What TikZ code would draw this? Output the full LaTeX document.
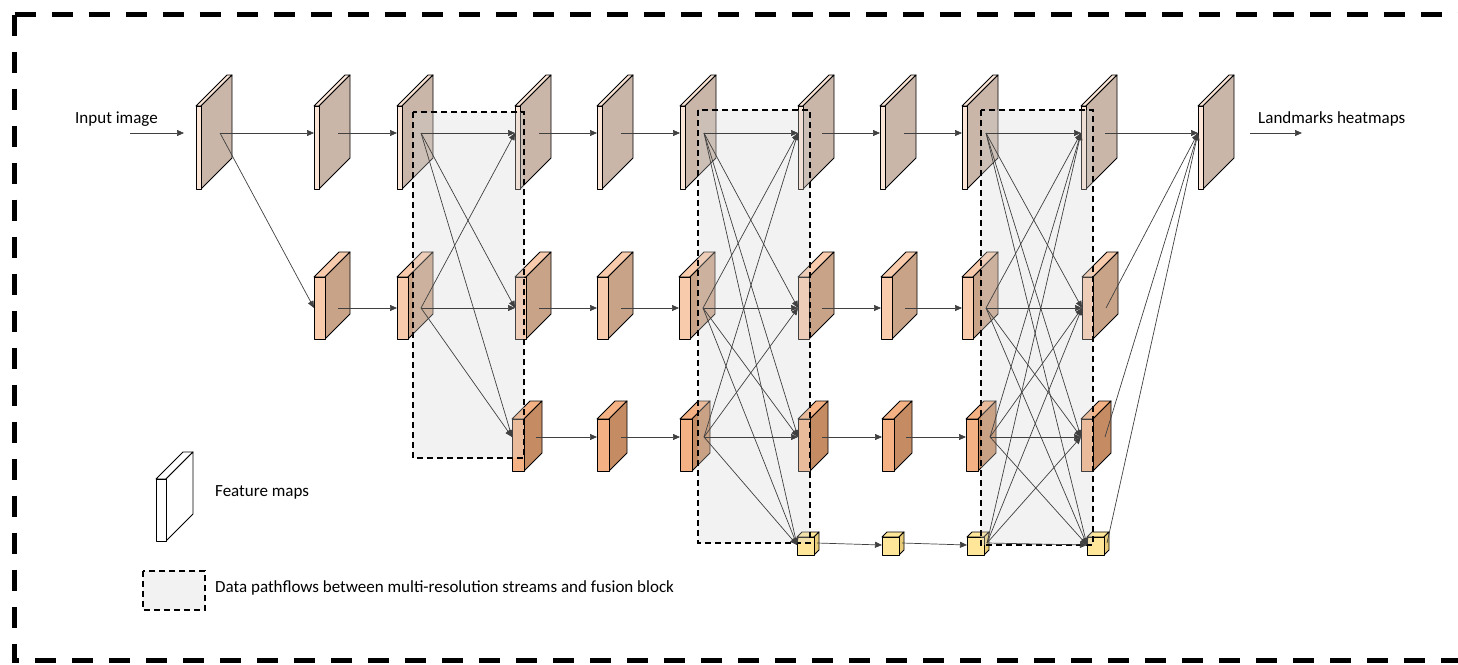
\documentclass[tikz,border=0pt]{standalone}
\usepackage{fontspec}
\setmainfont{Carlito}
\usetikzlibrary{arrows.meta}
\definecolor{cA}{HTML}{FBE5D6}\definecolor{sA}{HTML}{C9B6A9}
\definecolor{cB}{HTML}{F8CBAD}\definecolor{sB}{HTML}{C8A387}
\definecolor{cC}{HTML}{F4B183}\definecolor{sC}{HTML}{C58C64}
\definecolor{cD}{HTML}{FFE699}\definecolor{sD}{HTML}{E8CC7A}
\definecolor{fuse}{HTML}{D4D4D4}
\definecolor{legfill}{HTML}{F2F2F2}
\tikzset{
  blk/.style={draw=black,line width=0.95pt,line join=round},
  conn/.style={draw=black!75,line width=0.7pt,-{Triangle[length=7pt,width=6pt]}},
  fusebox/.style={draw=black,line width=2pt,dash pattern=on 6pt off 4pt},
  lbl/.style={font=\fontsize{17}{20}\selectfont,anchor=west,inner sep=0pt}
}
% #1 x, #2 ytop, #3 w, #4 h, #5 d, #6 front, #7 side
\newcommand{\fmap}[7]{%
  \filldraw[blk,fill=#6] (#1,#2) -- ++(#3,0) -- ++(#5,-#5) -- ++(-#3,0) -- cycle;
  \filldraw[blk,fill=#7] ({#1+#3},#2) -- ++(#5,-#5) -- ++(0,#4) -- ++(-#5,#5) -- cycle;
  \filldraw[blk,fill=#6] (#1,#2) rectangle ++(#3,#4);}
\newcommand{\fA}[2]{\fmap{#2}{106}{5}{83}{31}{cA}{sA}\coordinate (#1i) at (#2,133);\coordinate (#1o) at ({#2+24},133);}
\newcommand{\fB}[2]{\fmap{#2}{277}{11}{62}{25}{cB}{sB}\coordinate (#1i) at (#2,308);\coordinate (#1o) at ({#2+24},308);}
\newcommand{\fC}[2]{\fmap{#2}{419}{12}{52}{18}{cC}{sC}\coordinate (#1i) at (#2,437);\coordinate (#1o) at ({#2+24},437);}
\newcommand{\fD}[2]{\fmap{#2}{537}{17}{18}{5}{cD}{sD}\coordinate (#1i) at (#2,545);\coordinate (#1o) at ({#2+20},543);}
\begin{document}
\begin{tikzpicture}[x=1pt,y=-1pt]
\useasboundingbox (0,0) rectangle (1458,664);
% outer border
\draw[line width=5pt,dash pattern=on 21pt off 16pt] (14.5,14.5) -- (1470,14.5) (14.5,14.5) -- (14.5,660) -- (1470,660);
% row 1
\fA{a1}{196}\fA{a2}{314}\fA{a3}{397}\fA{a4}{515}\fA{a5}{597}\fA{a6}{680}
\fA{a7}{798}\fA{a8}{880}\fA{a9}{962}\fA{a10}{1081}\fA{a11}{1198}
% row 2
\fB{b1}{314}\fB{b2}{397}\fB{b3}{515}\fB{b4}{597}\fB{b5}{679}\fB{b6}{798}
\fB{b7}{881}\fB{b8}{962}\fB{b9}{1082}
% row 3
\fC{c1}{512}\fC{c2}{597}\fC{c3}{680}\fC{c4}{798}\fC{c5}{882}\fC{c6}{966}\fC{c7}{1081}
% row 4
\fD{d1}{797}\fD{d2}{882}\fD{d3}{967}\fD{d4}{1087}
% fusion blocks
\fill[fuse,opacity=0.3] (413,112) rectangle (524,458);
\fill[fuse,opacity=0.3] (698,110) rectangle (810,543);
\fill[fuse,opacity=0.3] (981,110) rectangle (1093,545);
\draw[fusebox] (413,112) rectangle (524,458);
\draw[fusebox] (698,110) rectangle (810,543);
\draw[fusebox] (981,110) rectangle (1093,545);
% input / output
\node[lbl] (tin) at (75,119) {Input image};
\coordinate (inA) at (130,133); \coordinate (inB) at (184,133);
\draw[conn] (inA) -- (inB);
\node[lbl] (tout) at (1258,119) {Landmarks heatmaps};
\coordinate (outA) at (1250,133); \coordinate (outB) at (1302,133);
\draw[conn] (outA) -- (outB);
% stream connectors
\foreach \s/\t in {a1/a2,a2/a3,a4/a5,a5/a6,a7/a8,a8/a9,a10/a11,a1/b1,
  b1/b2,b3/b4,b4/b5,b6/b7,b7/b8,c1/c2,c2/c3,c4/c5,c5/c6,d1/d2,d2/d3,
  b9/a11,c7/a11,d4/a11}
  \draw[conn] (\s o) -- (\t i);
% fusion 1
\foreach \s in {a3,b2}\foreach \t in {a4,b3,c1} \draw[conn] (\s o) -- (\t i);
% fusion 2
\foreach \s in {a6,b5,c3}\foreach \t in {a7,b6,c4,d1} \draw[conn] (\s o) -- (\t i);
% fusion 3
\foreach \s in {a9,b8,c6,d3}\foreach \t in {a10,b9,c7,d4} \draw[conn] (\s o) -- (\t i);
% legend
\fmap{156}{479}{10}{62}{27}{white}{white}
\node[lbl] (tfm) at (215,492) {Feature maps};
\draw[fusebox,fill=legfill] (143,571) rectangle (205,610);
\node[lbl] (tdp) at (215,588) {Data pathflows between multi-resolution streams and fusion block};
\end{tikzpicture}
\end{document}
